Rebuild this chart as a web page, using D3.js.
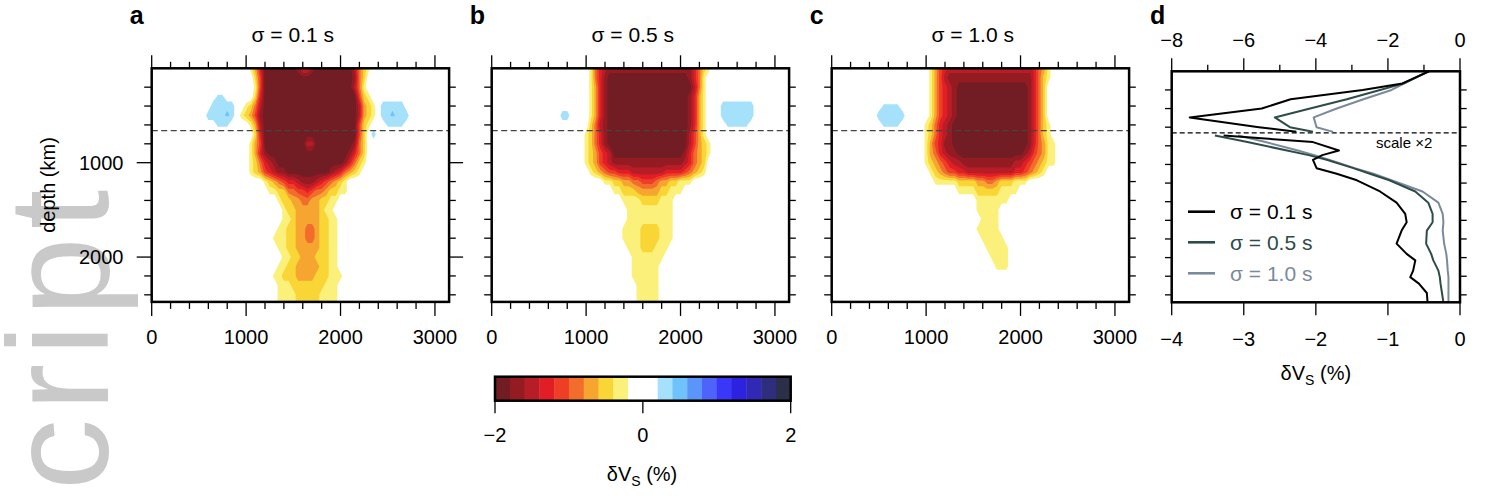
<!DOCTYPE html>
<html>
<head>
<meta charset="utf-8">
<script src="https://cdn.jsdelivr.net/npm/d3@7/dist/d3.min.js"></script>
<style>
  body { margin: 0; background: #fff; }
  svg { display: block; }
</style>
</head>
<body>
<svg id="fig" width="1487" height="498"></svg>
<script>
var r = function(c, n) { return c.repeat(n); };

// ---- tomography grids: one string of colour-bin digits per depth row ----
// each row is a list of runs [first column, digits], columns are 50 km apart,
// rows are 100 km apart; '0' white, '1'..'9' slow bins, 'o','p','q' fast bins
var distStep = 50, depthStep = 100, nCols = 64;
var depthRows = [0, 100, 200, 300, 400, 500, 600, 700, 800, 900, 1000, 1100, 1200,
                 1300, 1400, 1500, 1600, 1700, 1800, 1900, 2000, 2100, 2200, 2300, 2400, 2500];

var fieldA = [
  [[21, "136" + r("9", 7) + "8668" + r("9", 8) + "7421"]],
  [[22, "25" + r("9", 19) + "842"]],
  [[22, "15" + r("9", 19) + "741"]],
  [[14, "oo"], [22, "26" + r("9", 20) + "521"]],
  [[13, "ppppp"], [20, "1247" + r("9", 20) + "7321"], [49, "ppppp"]],
  [[12, "ppppqp"], [19, "12358" + r("9", 20) + "7321"], [49, "ppqppp"]],
  [[14, "ooo"], [21, "137" + r("9", 20) + "521"], [50, "oooo"]],
  [[22, "26" + r("9", 20) + "52"], [47, "p"]],
  [[21, "135" + r("9", 9) + "77" + r("9", 8) + "842"]],
  [[21, "1368" + r("9", 17) + "8642"]],
  [[21, "124678" + r("9", 14) + "86421"]],
  [[21, "12356788" + r("9", 9) + "8764321"]],
  [[24, "123456678887654321"]],
  [[25, "11224455654432211"]],
  [[27, "1223344332211"]],
  [[28, "12233333211"]],
  [[28, "112333332211"]],
  [[27, "1122334432211"]],
  [[26, "11122334432211"]],
  [[27, "1122333332211"]],
  [[28, "112233322211"]],
  [[27, "1122333332211"]],
  [[26, "112223333222111"]],
  [[27, "1112222222111"]],
  [[27, "1111222221111"]],
  [[27, "1111222221111"]]
];

var fieldB = [
  [[21, "1467" + r("8", 18) + "6421"]],
  [[21, "1468" + r("9", 17) + "8641"]],
  [[21, "1368" + r("9", 18) + "741"]],
  [[21, "1368" + r("9", 17) + "8631"]],
  [[21, "1368" + r("9", 17) + "8631"], [49, "ppppppp"]],
  [[15, "pp"], [21, "1368" + r("9", 17) + "8631"], [49, "ppppppp"]],
  [[21, "2478" + r("9", 17) + "8631"], [50, "ooooo"]],
  [[20, "12468" + r("9", 17) + "7531"]],
  [[20, "12468" + r("9", 17) + "75321"]],
  [[20, "123567" + r("9", 15) + "864321"]],
  [[20, "123567" + r("8", 15) + "76432"]],
  [[21, "123455666" + r("7", 7) + "6666" + "54321"]],
  [[24, "1122334455543322111"]],
  [[26, "112223333322111"]],
  [[28, "11112222111"]],
  [[29, "1111111111"]],
  [[29, "1111111111"]],
  [[28, "11112222111"]],
  [[28, "11112222111"]],
  [[29, "111222111"]],
  [[30, "1111111"]],
  [[30, "111111"]],
  [[30, "111111"]],
  [[31, "11111"]],
  [[31, "11111"]],
  [[31, "11111"]]
];

var fieldC = [
  [[21, "1356" + r("7", 18) + "6431"]],
  [[21, "1357" + r("8", 18) + "6421"]],
  [[21, "135678" + r("9", 15) + "8642"]],
  [[21, "135678" + r("9", 15) + "8642"]],
  [[11, "oooo"], [21, "135678" + r("9", 15) + "8642"]],
  [[10, "pppppp"], [21, "135678" + r("9", 15) + "8642"]],
  [[11, "oooo"], [20, "124678" + r("9", 16) + "86421"]],
  [[20, "124678" + r("9", 16) + "86421"]],
  [[20, "135688" + r("9", 16) + "864311"]],
  [[20, "1346788" + r("9", 14) + "8754311"]],
  [[20, "12345677" + r("8", 11) + "776543211"]],
  [[21, "12345566" + r("7", 10) + "6654321"]],
  [[22, "11111222233443222111"]],
  [[27, "1111222221111"]],
  [[31, "1111111"]],
  [[31, "11111"]],
  [[32, "1111"]],
  [[31, "11111"]],
  [[32, "11111"]],
  [[33, "11111"]],
  [[34, "1111"]],
  [[35, "111"]],
  [], [], [], []
];

// bin digit -> dVs (%) inside its colour bin
var levelValue = { "0": 0, "1": -0.3, "2": -0.5, "3": -0.7, "4": -0.9, "5": -1.1,
                   "6": -1.3, "7": -1.5, "8": -1.7, "9": -1.9, "o": 0.25, "p": 0.38, "q": 0.42 };

var slowThresholds = [0.2, 0.4, 0.6, 0.8, 1.0, 1.2, 1.4, 1.6, 1.8];
var slowColors = ["#fbf07a", "#f9d636", "#f6a531", "#f26c2c", "#ef3e26", "#e11d25", "#b71d26", "#951b22", "#721c24"];
var fastThresholds = [0.2, 0.4];
var fastColors = ["#a6e1fb", "#6fc3fc"];

var cbarEdges = [-2, -1.8, -1.6, -1.4, -1.2, -1, -0.8, -0.6, -0.4, -0.2, 0,
                 0.2, 0.4, 0.6, 0.8, 1, 1.2, 1.4, 1.6, 1.8, 2];
var cbarColors = ["#721c24", "#951b22", "#b71d26", "#e11d25", "#ef3e26", "#f26c2c", "#f6a531", "#f9d636", "#fbf07a", "#ffffff",
                  "#ffffff", "#a6e1fb", "#6fc3fc", "#5b95f9", "#4d63f9", "#3a37f9", "#2d22e0", "#3128b5", "#2e2d7e", "#2b2f4a"];
var cbarLabels = [-2, 0, 2];

// ---- depth profiles (panel d), in bottom-axis units ----
var profileDepthUpper = [0, 130, 200, 300, 400, 495, 600, 650];
var profileDepthLower = [690, 760, 850, 900, 950, 1040, 1100, 1170, 1290, 1410, 1530,
                         1620, 1710, 1850, 1960, 2030, 2140, 2210, 2280, 2380, 2480];
var sigma01Upper = [-0.43, -0.80, -1.35, -2.35, -2.75, -3.75, -2.79, -2.27];
var sigma05Upper = [-0.43, -0.78, -1.11, -1.57, -2.08, -2.57, -2.36, -2.04];
var sigma10Upper = [-0.45, -0.77, -0.95, -1.34, -1.71, -2.03, -1.99, -1.76];
var sigma01Lower = [-3.28, -2.04, -1.68, -1.91, -2.04, -1.99, -1.71, -1.43, -1.11, -0.88, -0.76,
                    -0.74, -0.81, -0.88, -0.74, -0.62, -0.65, -0.69, -0.57, -0.46, -0.45];
var sigma05Lower = [-3.40, -2.95, -2.40, -2.10, -1.85, -1.48, -1.25, -0.98, -0.62, -0.44, -0.38,
                    -0.38, -0.46, -0.47, -0.40, -0.37, -0.30, -0.28, -0.27, -0.25, -0.23];
var sigma10Lower = [-3.08, -2.70, -2.25, -2.02, -1.82, -1.46, -1.20, -0.95, -0.52, -0.30, -0.24,
                    -0.23, -0.24, -0.22, -0.19, -0.18, -0.17, -0.16, -0.16, -0.16, -0.16];

var distLabels = [0, 1000, 2000, 3000];
var depthLabels = [1000, 2000];
var profTopLabels = [-8, -6, -4, -2, 0];
var profBottomLabels = [-4, -3, -2, -1, 0];

var font = '"Liberation Sans", Arial, Helvetica, sans-serif';
var minus = function(v) { return v < 0 ? "\u2212" + Math.abs(v) : String(v); };

var svg = d3.select("#fig");
var defs = svg.append("defs");

// grey watermark in the left margin
svg.append("text")
  .attr("transform", "translate(108,490) rotate(-90)")
  .attr("font-family", font)
  .attr("font-size", 142)
  .attr("letter-spacing", 8)
  .attr("fill", "#c9c9c9")
  .text("cript");

function ticks(g, data, x1, y1, x2, y2) {
  g.selectAll(null).data(data).enter().append("line")
    .attr("x1", x1).attr("y1", y1).attr("x2", x2).attr("y2", y2)
    .attr("stroke", "#000").attr("stroke-width", 1.3);
}

function label(g, x, y, txt, size, anchor) {
  return g.append("text").attr("x", x).attr("y", y)
    .attr("font-family", font).attr("font-size", size)
    .attr("text-anchor", anchor || "middle").text(txt);
}

function dvsTitle(g, x, y) {
  var t = g.append("text").attr("x", x).attr("y", y)
    .attr("font-family", font).attr("font-size", 20).attr("text-anchor", "middle");
  t.append("tspan").text("\u03b4V");
  t.append("tspan").attr("font-size", 14).attr("dy", 5).text("S");
  t.append("tspan").attr("dy", -5).text(" (%)");
}

// ---- panels a-c ----
var plotTop = 68.3, plotW = 297.4, plotH = 233.6;
var panels = [
  { letter: "a", title: "\u03c3 = 0.1 s", left: 151.7, rows: fieldA, labels: true },
  { letter: "b", title: "\u03c3 = 0.5 s", left: 491.7, rows: fieldB, labels: false },
  { letter: "c", title: "\u03c3 = 1.0 s", left: 831.7, rows: fieldC, labels: false }
];

panels.forEach(function(p) {
  var x = d3.scaleLinear().domain([0, 3150]).range([p.left, p.left + plotW]);
  var y = d3.scaleLinear().domain([0, 2475]).range([plotTop, plotTop + plotH]);
  var g = svg.append("g");
  var bottom = plotTop + plotH, right = p.left + plotW;

  var values = new Array(nCols * depthRows.length).fill(0);
  p.rows.forEach(function(runs, j) {
    runs.forEach(function(run) {
      for (var k = 0; k < run[1].length; k++) values[j * nCols + run[0] + k] = levelValue[run[1][k]];
    });
  });

  var path = d3.geoPath(d3.geoTransform({
    point: function(cx, cy) {
      this.stream.point(x((cx - 0.5) * distStep), y((cy - 0.5) * depthStep));
    }
  }));

  var clipId = "clip-" + p.letter;
  defs.append("clipPath").attr("id", clipId).append("rect")
    .attr("x", p.left).attr("y", plotTop).attr("width", plotW).attr("height", plotH);

  var field = g.append("g").attr("clip-path", "url(#" + clipId + ")");
  var slow = d3.contours().size([nCols, depthRows.length]).thresholds(slowThresholds)
    (values.map(function(v) { return -v; }));
  var fast = d3.contours().size([nCols, depthRows.length]).thresholds(fastThresholds)(values);

  field.selectAll("path.slow").data(slow).enter().append("path")
    .attr("class", "slow").attr("d", path)
    .attr("fill", function(d, i) { return slowColors[i]; });
  field.selectAll("path.fast").data(fast).enter().append("path")
    .attr("class", "fast").attr("d", path)
    .attr("fill", function(d, i) { return fastColors[i]; });

  // 660 km
  g.append("line").attr("x1", p.left).attr("x2", right).attr("y1", y(660)).attr("y2", y(660))
    .attr("stroke", "#444").attr("stroke-width", 1.4).attr("stroke-dasharray", "6,3.5");

  g.append("rect").attr("x", p.left).attr("y", plotTop).attr("width", plotW).attr("height", plotH)
    .attr("fill", "none").attr("stroke", "#000").attr("stroke-width", 2.5);

  var distTicks = d3.range(0, 3001, 200);
  var major = function(v) { return v % 1000 === 0; };
  ticks(g, distTicks, function(d) { return x(d); }, plotTop,
        function(d) { return x(d); }, function(d) { return plotTop - (major(d) ? 13 : 6.5); });
  ticks(g, distTicks, function(d) { return x(d); }, bottom,
        function(d) { return x(d); }, function(d) { return bottom + (major(d) ? 14 : 7); });

  var depthTicks = d3.range(200, 2401, 200);
  ticks(g, depthTicks, p.left, function(d) { return y(d); },
        function(d) { return p.left - (p.labels && major(d) ? 15 : 7.5); }, function(d) { return y(d); });
  ticks(g, depthTicks, right, function(d) { return y(d); },
        function(d) { return right + (p.labels && major(d) ? 14 : 6.7); }, function(d) { return y(d); });

  distLabels.forEach(function(v) { label(g, x(v), 344, String(v), 20); });
  if (p.labels) {
    depthLabels.forEach(function(v) { label(g, 123.5, y(v) + 7, String(v), 20, "end"); });
    g.append("text").attr("transform", "translate(55,185) rotate(-90)")
      .attr("font-family", font).attr("font-size", 20).attr("text-anchor", "middle")
      .text("depth (km)");
  }

  label(g, p.left + 141, 42, p.title, 21);
  label(g, p.left - 22, 24, p.letter, 25, "start").attr("font-weight", "bold");
});

// ---- panel d: depth profiles ----
var dLeft = 1171.7, dRight = 1460, dTop = 71.3, dBottom = 302.3;
var xd = d3.scaleLinear().domain([-4, 0]).range([dLeft, dRight]);
var xdTop = d3.scaleLinear().domain([-8, 0]).range([dLeft, dRight]);
var yd = d3.scaleLinear().domain([0, 2480]).range([dTop, dBottom]);
var gd = svg.append("g");

gd.append("line").attr("x1", dLeft).attr("x2", dRight).attr("y1", yd(660)).attr("y2", yd(660))
  .attr("stroke", "#000").attr("stroke-width", 1.3).attr("stroke-dasharray", "5,3");
label(gd, 1376, 148, "scale \u00d72", 15, "start");

var series = [
  { name: "\u03c3 = 1.0 s", color: "#7b8a9b", upper: sigma10Upper, lower: sigma10Lower, ly: 273.3 },
  { name: "\u03c3 = 0.5 s", color: "#2d4c48", upper: sigma05Upper, lower: sigma05Lower, ly: 242.3 },
  { name: "\u03c3 = 0.1 s", color: "#000000", upper: sigma01Upper, lower: sigma01Lower, ly: 211.7 }
];
var line = d3.line().x(function(d) { return xd(d[1]); }).y(function(d) { return yd(d[0]); });

series.forEach(function(s) {
  [[profileDepthUpper, s.upper], [profileDepthLower, s.lower]].forEach(function(seg) {
    gd.append("path").attr("d", line(d3.zip(seg[0], seg[1])))
      .attr("fill", "none").attr("stroke", s.color).attr("stroke-width", 2)
      .attr("stroke-linejoin", "round");
  });
  gd.append("line").attr("x1", 1188).attr("x2", 1215).attr("y1", s.ly).attr("y2", s.ly)
    .attr("stroke", s.color).attr("stroke-width", 2.6);
  label(gd, 1230, s.ly + 7.5, s.name, 21, "start").attr("fill", s.color);
});

gd.append("rect").attr("x", dLeft).attr("y", dTop).attr("width", dRight - dLeft).attr("height", dBottom - dTop)
  .attr("fill", "none").attr("stroke", "#000").attr("stroke-width", 2.5);

var topTicks = d3.range(-8, 1, 1);
ticks(gd, topTicks, function(d) { return xdTop(d); }, dTop,
      function(d) { return xdTop(d); }, function(d) { return dTop - (d % 2 === 0 ? 13 : 6.5); });
ticks(gd, profBottomLabels, function(d) { return xd(d); }, dBottom,
      function(d) { return xd(d); }, dBottom + 13);
var dDepthTicks = d3.range(200, 2401, 200);
ticks(gd, dDepthTicks, dLeft, function(d) { return yd(d); }, dLeft - 6.7, function(d) { return yd(d); });
ticks(gd, dDepthTicks, dRight, function(d) { return yd(d); }, dRight + 6.7, function(d) { return yd(d); });

profTopLabels.forEach(function(v) { label(gd, xdTop(v), 47, minus(v), 20); });
profBottomLabels.forEach(function(v) { label(gd, xd(v), 345.5, minus(v), 20); });
dvsTitle(gd, (dLeft + dRight) / 2, 380);
label(gd, 1150, 24, "d", 25, "start").attr("font-weight", "bold");

// ---- colour bar ----
var xc = d3.scaleLinear().domain([-2, 2]).range([495, 790.7]);
var cTop = 376.7, cBottom = 400.7;
var gc = svg.append("g");
gc.selectAll(null).data(cbarColors).enter().append("rect")
  .attr("x", function(d, i) { return xc(cbarEdges[i]); })
  .attr("width", function(d, i) { return xc(cbarEdges[i + 1]) - xc(cbarEdges[i]) + 0.4; })
  .attr("y", cTop).attr("height", cBottom - cTop)
  .attr("fill", function(d) { return d; });
gc.append("rect").attr("x", xc(-2)).attr("y", cTop).attr("width", xc(2) - xc(-2)).attr("height", cBottom - cTop)
  .attr("fill", "none").attr("stroke", "#000").attr("stroke-width", 2.5);
ticks(gc, cbarLabels, function(d) { return xc(d); }, cBottom, function(d) { return xc(d); }, cBottom + 12.5);
cbarLabels.forEach(function(v) { label(gc, xc(v), 442, minus(v), 20); });
dvsTitle(gc, 642, 481);
</script>
</body>
</html>
